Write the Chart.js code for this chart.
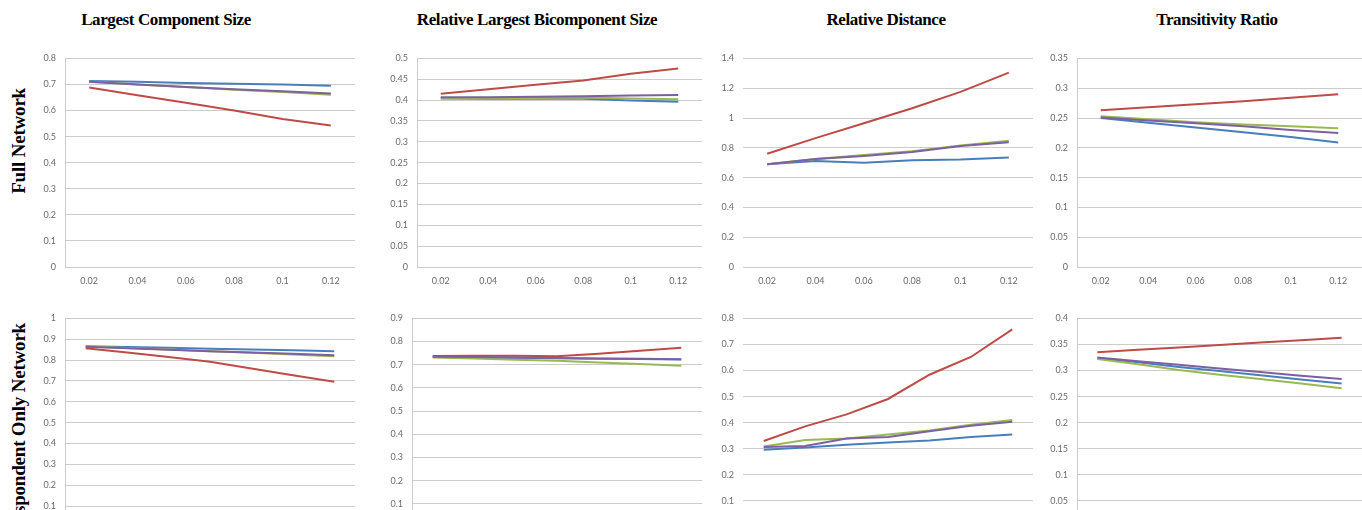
<!DOCTYPE html>
<html>
<head>
<meta charset="utf-8">
<script src="https://cdn.jsdelivr.net/npm/chart.js@4/dist/chart.umd.min.js"></script>
<style>
  html, body { margin: 0; padding: 0; background: #fff; }
  body { width: 1362px; height: 510px; position: relative; overflow: hidden; }
  canvas { position: absolute; }
  .title {
    position: absolute; width: 320px; text-align: center;
    font: bold 17px "Liberation Serif", serif; line-height: 17px;
    letter-spacing: -0.4px; color: #000; white-space: nowrap;
  }
  .rowlabel {
    position: absolute; white-space: nowrap;
    font: bold 19px "Liberation Serif", serif; line-height: 19px;
    letter-spacing: -0.2px; color: #000;
    transform-origin: right top; transform: rotate(-90deg);
  }
</style>
</head>
<body>
<div class="title" style="left:6px;top:11px">Largest Component Size</div>
<div class="title" style="left:377px;top:11px">Relative Largest Bicomponent Size</div>
<div class="title" style="left:726px;top:11px">Relative Distance</div>
<div class="title" style="left:1057px;top:11px">Transitivity Ratio</div>
<div class="rowlabel" style="right:1353px;top:88px">Full Network</div>
<div class="rowlabel" style="right:1353px;top:323px">Respondent Only Network</div>

<script>
// -------------------- DATA --------------------
const xTop = ["0.02", "0.04", "0.06", "0.08", "0.1", "0.12"];
const xBottom = ["0.02", "0.04", "0.06", "0.08", "0.1", "0.12", "0.14"];

// full network
const fullLargestBlue   = [0.713, 0.710, 0.706, 0.703, 0.700, 0.695];
const fullLargestRed    = [0.688, 0.659, 0.630, 0.600, 0.568, 0.543];
const fullLargestGreen  = [0.710, 0.700, 0.690, 0.680, 0.671, 0.661];
const fullLargestPurple = [0.710, 0.700, 0.690, 0.682, 0.674, 0.665];

const fullBicompBlue   = [0.404, 0.403, 0.403, 0.403, 0.399, 0.396];
const fullBicompRed    = [0.415, 0.426, 0.437, 0.447, 0.463, 0.476];
const fullBicompGreen  = [0.405, 0.405, 0.405, 0.406, 0.404, 0.402];
const fullBicompPurple = [0.407, 0.407, 0.408, 0.409, 0.411, 0.412];

const fullDistBlue   = [0.690, 0.712, 0.700, 0.717, 0.722, 0.735];
const fullDistRed    = [0.760, 0.865, 0.965, 1.065, 1.175, 1.305];
const fullDistGreen  = [0.690, 0.725, 0.751, 0.777, 0.816, 0.848];
const fullDistPurple = [0.690, 0.725, 0.745, 0.772, 0.812, 0.837];

const fullTransBlue   = [0.250, 0.242, 0.234, 0.226, 0.218, 0.209];
const fullTransRed    = [0.263, 0.268, 0.273, 0.278, 0.284, 0.290];
const fullTransGreen  = [0.253, 0.248, 0.243, 0.239, 0.236, 0.233];
const fullTransPurple = [0.251, 0.246, 0.241, 0.236, 0.230, 0.225];

// respondent only network
const respLargestBlue   = [0.867, 0.863, 0.859, 0.855, 0.851, 0.847, 0.842];
const respLargestRed    = [0.857, 0.837, 0.815, 0.792, 0.760, 0.728, 0.696];
const respLargestGreen  = [0.865, 0.858, 0.851, 0.843, 0.835, 0.827, 0.819];
const respLargestPurple = [0.864, 0.857, 0.850, 0.843, 0.836, 0.830, 0.823];

const respBicompBlue   = [0.734, 0.732, 0.730, 0.728, 0.726, 0.725, 0.723];
const respBicompRed    = [0.738, 0.739, 0.739, 0.737, 0.748, 0.760, 0.773];
const respBicompGreen  = [0.731, 0.727, 0.722, 0.717, 0.710, 0.703, 0.696];
const respBicompPurple = [0.735, 0.733, 0.731, 0.729, 0.727, 0.726, 0.724];

const respDistBlue   = [0.296, 0.305, 0.315, 0.324, 0.332, 0.345, 0.355];
const respDistRed    = [0.330, 0.386, 0.432, 0.491, 0.584, 0.652, 0.758];
const respDistGreen  = [0.309, 0.334, 0.339, 0.355, 0.370, 0.392, 0.410];
const respDistPurple = [0.307, 0.311, 0.339, 0.345, 0.367, 0.388, 0.404];

const respTransBlue   = [0.324, 0.316, 0.307, 0.299, 0.291, 0.283, 0.275];
const respTransRed    = [0.335, 0.340, 0.344, 0.349, 0.354, 0.358, 0.363];
const respTransGreen  = [0.322, 0.312, 0.301, 0.292, 0.284, 0.275, 0.266];
const respTransPurple = [0.325, 0.318, 0.311, 0.304, 0.297, 0.290, 0.284];

// y axis ranges: [max, step] per panel
const yMaxTop = [0.8, 0.5, 1.4, 0.35];
const yStepTop = [0.1, 0.05, 0.2, 0.05];
const yMaxBottom = [1, 0.9, 0.8, 0.4];
const yStepBottom = [0.1, 0.1, 0.1, 0.05];

// -------------------- STYLE --------------------
const BLUE = "#4a7ebb", RED = "#be4b48", GREEN = "#98b954", PURPLE = "#7d60a0";
const GRID = "#cccccc";
const Y_AXIS_W = 50, TOP_PAD = 8, X_AXIS_H = 30, PLOT_H = 215;

// plot area positions: left, top, width, has vertical axis line
const layout = [
  [65, 52, 290, true], [417, 52, 285, true], [743, 52, 290, false], [1077, 52, 285, true],
  [65, 312, 290, true], [412, 312, 290, true], [743, 312, 290, false], [1077, 312, 285, true],
];

const panelData = [
  [xTop, [fullLargestBlue, fullLargestRed, fullLargestGreen, fullLargestPurple], yMaxTop[0], yStepTop[0]],
  [xTop, [fullBicompBlue, fullBicompRed, fullBicompGreen, fullBicompPurple], yMaxTop[1], yStepTop[1]],
  [xTop, [fullDistBlue, fullDistRed, fullDistGreen, fullDistPurple], yMaxTop[2], yStepTop[2]],
  [xTop, [fullTransBlue, fullTransRed, fullTransGreen, fullTransPurple], yMaxTop[3], yStepTop[3]],
  [xBottom, [respLargestBlue, respLargestRed, respLargestGreen, respLargestPurple], yMaxBottom[0], yStepBottom[0]],
  [xBottom, [respBicompBlue, respBicompRed, respBicompGreen, respBicompPurple], yMaxBottom[1], yStepBottom[1]],
  [xBottom, [respDistBlue, respDistRed, respDistGreen, respDistPurple], yMaxBottom[2], yStepBottom[2]],
  [xBottom, [respTransBlue, respTransRed, respTransGreen, respTransPurple], yMaxBottom[3], yStepBottom[3]],
];

const tickFont = { family: "Lato, 'Liberation Sans', sans-serif", size: 9 };
const colors = [BLUE, RED, GREEN, PURPLE];
const drawOrder = [3, 2, 1, 0]; // later excel series on top

panelData.forEach(([labels, series, yMax, yStep], i) => {
  const [left, top, width, axisLine] = layout[i];
  const canvas = document.createElement("canvas");
  canvas.width = width + Y_AXIS_W;
  canvas.height = TOP_PAD + PLOT_H + X_AXIS_H;
  canvas.style.left = (left - Y_AXIS_W) + "px";
  canvas.style.top = (top - TOP_PAD) + "px";
  document.body.appendChild(canvas);

  new Chart(canvas.getContext("2d"), {
    type: "line",
    data: {
      labels,
      datasets: series.map((data, k) => ({
        data,
        borderColor: colors[k],
        borderWidth: 2,
        pointRadius: 0,
        tension: 0,
        fill: false,
        order: drawOrder[k],
      })),
    },
    options: {
      responsive: false,
      animation: false,
      layout: { padding: { top: TOP_PAD, left: 0, right: 0, bottom: 0 } },
      plugins: { legend: { display: false }, tooltip: { enabled: false } },
      scales: {
        x: {
          offset: true,
          grid: { display: false, drawTicks: false },
          border: { display: false },
          ticks: { color: "#6b6b6b", font: tickFont, padding: 9, maxRotation: 0, autoSkip: false },
          afterFit: (s) => { s.height = X_AXIS_H; },
        },
        y: {
          min: 0,
          max: yMax,
          grid: { color: GRID, lineWidth: 1, drawTicks: false },
          border: { display: axisLine, color: GRID, width: 1 },
          ticks: {
            stepSize: yStep,
            color: "#6b6b6b",
            font: tickFont,
            padding: 9,
            callback: (v) => String(+v.toFixed(2)),
          },
          afterFit: (s) => { s.width = Y_AXIS_W; },
        },
      },
    },
  });
});
</script>
</body>
</html>
